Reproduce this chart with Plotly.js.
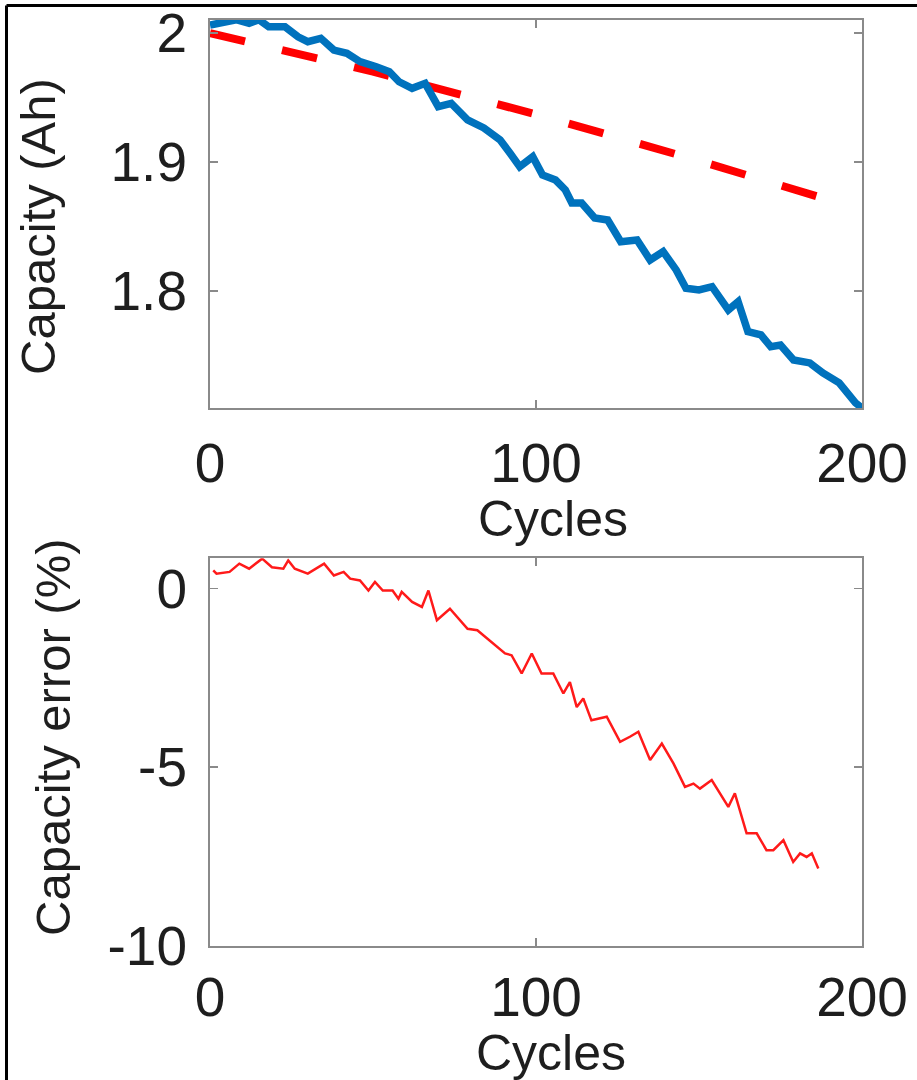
<!DOCTYPE html>
<html>
<head>
<meta charset="utf-8">
<script src="https://cdn.plot.ly/plotly-3.0.1.min.js"></script>
<style>
  html, body { margin: 0; padding: 0; background: #ffffff; }
  #chart { width: 917px; height: 1080px; }
</style>
</head>
<body>
<div id="chart"></div>
<script>
// Measured capacity over the cycle life (Ah)
const measuredCycles = [0, 4, 8, 12, 15, 18, 23, 27, 30, 34, 38, 42, 46, 51, 55, 58, 62, 66, 68, 70,
  74, 79, 84, 89, 92, 95, 99, 102, 106, 109, 111, 114, 118, 122, 126, 131, 135, 139, 143, 146,
  150, 154, 159, 162, 165, 169, 172, 175, 179, 184, 188, 193, 198, 200];
const measuredCapacity = [2.0062, 2.0088, 2.0103, 2.0075, 2.0103, 2.0049, 2.0049, 1.9971, 1.9933, 1.9959,
  1.9868, 1.9843, 1.9778, 1.9739, 1.9700, 1.9622, 1.9571, 1.9610, 1.9506, 1.9429,
  1.9455, 1.9326, 1.9264, 1.9171, 1.9070, 1.8964, 1.9041, 1.8899, 1.8860, 1.8783,
  1.8682, 1.8682, 1.8566, 1.8550, 1.8382, 1.8395, 1.8240, 1.8305, 1.8163, 1.8021,
  1.8008, 1.8033, 1.7853, 1.7917, 1.7685, 1.7659, 1.7568, 1.7581, 1.7465, 1.7442,
  1.7364, 1.7287, 1.7132, 1.7093];

// Model-predicted capacity (Ah)
const modelCycles = [0, 50, 100, 150, 188];
const modelCapacity = [2.000, 1.970, 1.937, 1.901, 1.872];

// Capacity error of the prediction (%)
const errorCycles = [1, 2, 6, 9, 12, 16, 19, 22.5, 24, 26, 30, 35, 38, 41, 43, 46, 48.6, 50.6, 53, 56,
  57.8, 58.8, 62, 65, 67, 69.6, 73.6, 79, 82, 90.5, 92.5, 95.6, 98.7, 101.7, 105.3, 108.4, 110.4, 112.5, 114.5, 117,
  121.7, 125.8, 128.8, 131.4, 135, 138.6, 142.2, 145.7, 148.3, 150.3, 153.9, 159, 161, 164.6, 167.7, 170.7, 172.8, 175.9, 178.9, 181,
  183, 184.6, 186.6];
const capacityError = [0.50, 0.41, 0.46, 0.69, 0.55, 0.83, 0.59, 0.55, 0.78, 0.55, 0.41, 0.69, 0.36, 0.46, 0.27, 0.22, -0.06, 0.18, -0.06, -0.06,
  -0.29, -0.10, -0.38, -0.52, -0.06, -0.89, -0.57, -1.13, -1.17, -1.82, -1.87, -2.38, -1.82, -2.38, -2.38, -2.94, -2.62, -3.32, -3.08, -3.69,
  -3.59, -4.29, -4.15, -4.01, -4.80, -4.34, -4.90, -5.55, -5.46, -5.60, -5.36, -6.11, -5.73, -6.85, -6.85, -7.32, -7.32, -7.04, -7.65, -7.41,
  -7.51, -7.41, -7.83];

// Tick labels
const cycleTicks = [0, 100, 200];
const capacityTicks = [1.8, 1.9, 2];
const capacityTickText = ['1.8', '1.9', '2'];
const errorTicks = [-10, -5, 0];
const errorTickText = ['-10', '-5', '0'];

const W = 917, H = 1080;
const px = v => v / W;
const py = v => 1 - v / H;

const FONT = 'Liberation Sans, Arial, Helvetica, sans-serif';
const AXIS_GRAY = '#8a8a8a';

const traces = [
  {
    x: modelCycles, y: modelCapacity, xaxis: 'x', yaxis: 'y',
    type: 'scatter', mode: 'lines',
    line: { color: '#ff0000', width: 8, dash: '36px,38px' },
    hoverinfo: 'skip'
  },
  {
    x: measuredCycles, y: measuredCapacity, xaxis: 'x', yaxis: 'y',
    type: 'scatter', mode: 'lines',
    line: { color: '#0072bd', width: 7.5 },
    hoverinfo: 'skip'
  },
  {
    x: errorCycles, y: capacityError, xaxis: 'x2', yaxis: 'y2',
    type: 'scatter', mode: 'lines',
    line: { color: '#ff1a1a', width: 2.5 },
    hoverinfo: 'skip'
  }
];

const axisStyle = {
  showline: true, mirror: 'ticks', linecolor: AXIS_GRAY, linewidth: 2,
  ticks: 'inside', ticklen: 8, tickwidth: 1.5, tickcolor: AXIS_GRAY,
  showgrid: false, zeroline: false,
  tickfont: { family: FONT, size: 55, color: '#1e1e1e' }
};

const layout = {
  width: W, height: H,
  margin: { l: 0, r: 0, t: 0, b: 0 },
  paper_bgcolor: '#ffffff', plot_bgcolor: '#ffffff',
  showlegend: false,
  xaxis: Object.assign({}, axisStyle, {
    domain: [px(210), px(862)], range: [0, 200], anchor: 'y',
    tickvals: cycleTicks, ticklabelstandoff: 6
  }),
  yaxis: Object.assign({}, axisStyle, {
    domain: [py(408.3), py(19.5)], range: [1.709, 2.0105], anchor: 'x',
    tickvals: capacityTicks, ticktext: capacityTickText, ticklabelstandoff: 10
  }),
  xaxis2: Object.assign({}, axisStyle, {
    domain: [px(210), px(862)], range: [0, 200], anchor: 'y2',
    tickvals: cycleTicks, ticklabelstandoff: 2
  }),
  yaxis2: Object.assign({}, axisStyle, {
    domain: [py(946), py(558.3)], range: [-10, 0.84], anchor: 'x2',
    tickvals: errorTicks, ticktext: errorTickText, ticklabelstandoff: 10
  }),
  annotations: [
    { text: 'Cycles', xref: 'paper', yref: 'paper', x: px(553), y: py(519),
      xanchor: 'center', yanchor: 'middle', showarrow: false,
      font: { family: FONT, size: 50, color: '#1e1e1e' } },
    { text: 'Cycles', xref: 'paper', yref: 'paper', x: px(551), y: py(1053),
      xanchor: 'center', yanchor: 'middle', showarrow: false,
      font: { family: FONT, size: 50, color: '#1e1e1e' } },
    { text: 'Capacity (Ah)', xref: 'paper', yref: 'paper', x: px(38), y: py(227),
      xanchor: 'center', yanchor: 'middle', textangle: -90, showarrow: false,
      font: { family: FONT, size: 49, color: '#1e1e1e' } },
    { text: 'Capacity error (%)', xref: 'paper', yref: 'paper', x: px(53), y: py(737),
      xanchor: 'center', yanchor: 'middle', textangle: -90, showarrow: false,
      font: { family: FONT, size: 49, color: '#1e1e1e' } }
  ],
  shapes: [
    // frame edges along the top and left of the figure
    { type: 'line', xref: 'paper', yref: 'paper', x0: px(6.5), x1: 1.05, y0: py(5.5), y1: py(5.5),
      line: { color: '#000000', width: 3 } },
    { type: 'line', xref: 'paper', yref: 'paper', x0: px(6.5), x1: px(6.5), y0: py(5.5), y1: -0.05,
      line: { color: '#000000', width: 3 } }
  ]
};

Plotly.newPlot('chart', traces, layout, { staticPlot: true, displayModeBar: false });
</script>
</body>
</html>
